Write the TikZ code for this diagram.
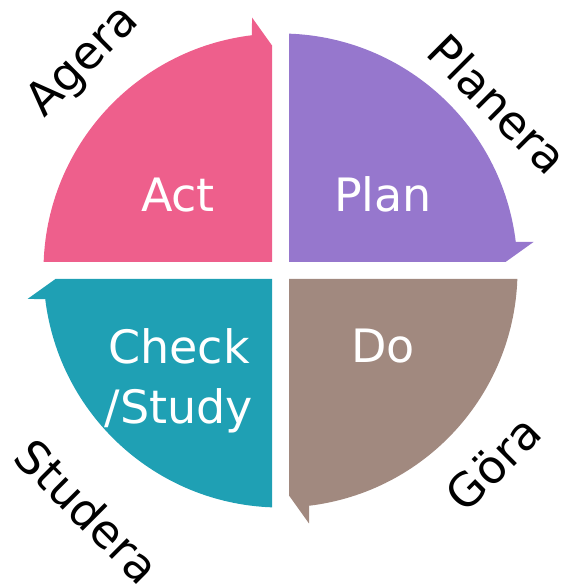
\documentclass[tikz,border=0pt]{standalone}
\usepackage{fontspec}
\setmainfont{DejaVu Sans}
\definecolor{actpink}{HTML}{EE5F8C}
\definecolor{planpurple}{HTML}{9677CD}
\definecolor{checkteal}{HTML}{1FA0B4}
\definecolor{dobrown}{HTML}{A1897F}
\tikzset{
  quad/.style={draw=none},
  intext/.style={text=white, font=\fontsize{46}{60}\selectfont, inner sep=0pt},
  outtext/.style={text=black, font=\fontsize{46}{52}\selectfont, inner sep=0pt}
}
\begin{document}
\begin{tikzpicture}[x=1pt,y=1pt]
\useasboundingbox (0,0) rectangle (565,587);
\begin{scope}[shift={(280.5,316.5)}]
  % Plan (top right)
  \fill[planpurple, quad] (8.5,8.5) -- (8.5,236.85)
      arc[start angle=87.945, end angle=6.907, radius=237]
      -- (253,28.5) -- (225,8.5) -- cycle;
  % Do (bottom right)
  \fill[dobrown, quad] (8.5,-8.5) -- (236.85,-8.5)
      arc[start angle=-2.055, end angle=-83.093, radius=237]
      -- (28.5,-253) -- (8.5,-225) -- cycle;
  % Check/Study (bottom left)
  \fill[checkteal, quad] (-8.5,-8.5) -- (-8.5,-236.85)
      arc[start angle=-92.055, end angle=-173.093, radius=237]
      -- (-253,-28.5) -- (-225,-8.5) -- cycle;
  % Act (top left)
  \fill[actpink, quad] (-8.5,8.5) -- (-236.85,8.5)
      arc[start angle=177.945, end angle=96.907, radius=237]
      -- (-28.5,253) -- (-8.5,225) -- cycle;
\end{scope}
\node[intext, anchor=base] (act) at (178,375) {Act};
\node[intext, anchor=base] (plan) at (383,375) {Plan};
\node[intext, anchor=base] (do) at (383,224) {Do};
\node[intext, align=center] (check) at (179,206) {Check\\/Study};
\node[outtext, rotate=45] (agera) at (84,525) {Agera};
\node[outtext, rotate=-45] (planera) at (498,483) {Planera};
\node[outtext, rotate=45] (gora) at (493,124) {Göra};
\node[outtext, rotate=-45] (studera) at (88,76) {Studera};
\end{tikzpicture}
\end{document}
